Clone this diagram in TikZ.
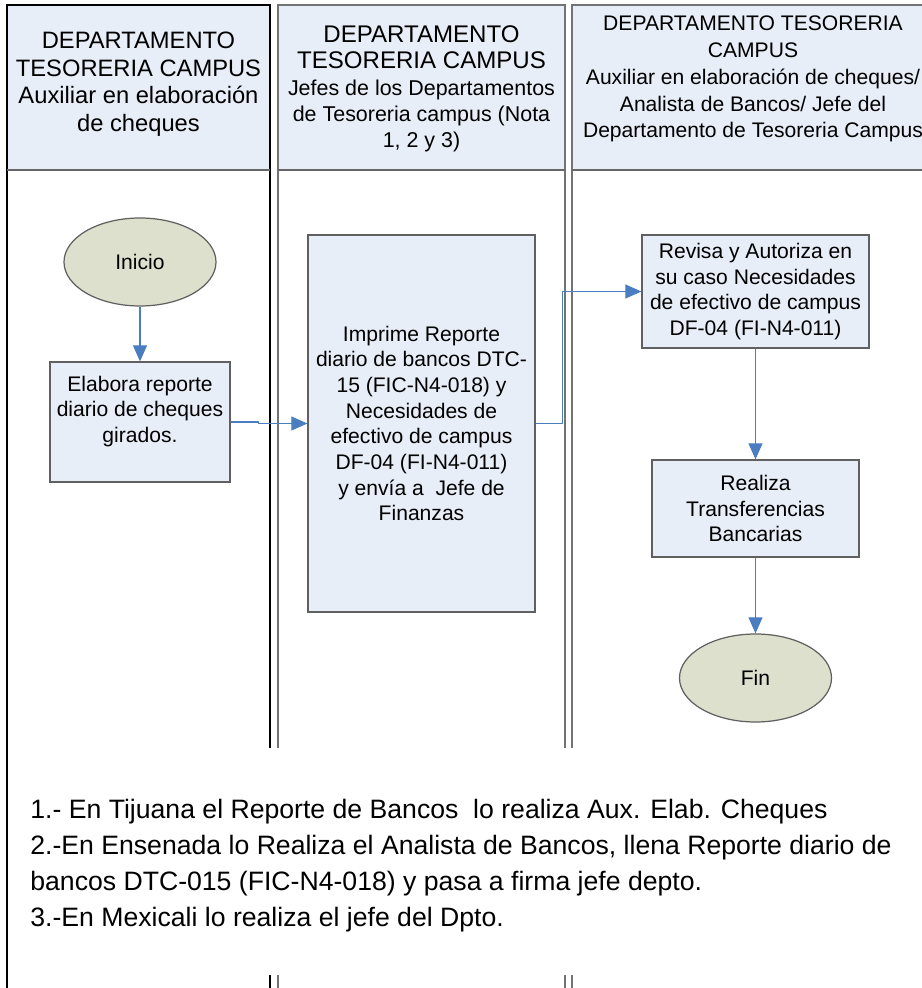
\documentclass[tikz,border=0pt]{standalone}
\usepackage{fontspec}
\setmainfont{Liberation Sans}
\usepackage{xcolor}
\usepackage{tikz}
\usetikzlibrary{positioning, arrows.meta, calc, shapes.geometric}

\definecolor{azulcab}{RGB}{232,238,247}
\definecolor{olivo}{RGB}{221,224,204}
\definecolor{azulflecha}{RGB}{74,126,193}
\definecolor{borde}{RGB}{96,96,96}

\begin{document}
\begin{tikzpicture}[
  carril/.style={line width=0.8pt},
  caja/.style={draw=borde, fill=azulcab, line width=0.7pt, align=center, font=\fontsize{12}{14.6}\selectfont},
  terminal/.style={ellipse, draw=borde, fill=olivo, line width=0.7pt, minimum width=3.04cm, minimum height=1.76cm, font=\fontsize{12}{14.6}\selectfont},
  flecha/.style={-{Triangle[length=3.2mm,width=2.8mm]}, azulflecha, line width=0.6pt},
  titulo/.style={align=center, inner sep=0pt}
]
\useasboundingbox (0,0) rectangle (18.44,19.76);
\clip (0,0) rectangle (18.44,19.76);
% header fills of the three lanes
\fill[azulcab] (0.14,16.36) rectangle (5.40,19.66);
\fill[azulcab] (5.56,16.36) rectangle (11.30,19.66);
\fill[azulcab] (11.44,16.36) rectangle (18.68,19.66);
% lane borders
\draw[carril] (0.14,-0.1) -- (0.14,19.66) -- (5.40,19.66) -- (5.40,4.80);
\draw[carril,black!55] (5.56,4.80) -- (5.56,19.66) -- (11.30,19.66) -- (11.30,4.80);
\draw[carril,black!55] (11.44,4.80) -- (11.44,19.66) -- (18.68,19.66) -- (18.68,4.80);
\draw[carril,black!60] (0.14,16.36) -- (5.40,16.36);
\draw[carril,black!60] (5.56,16.36) -- (11.30,16.36);
\draw[carril,black!60] (11.44,16.36) -- (18.68,16.36);
% lane stubs at the bottom edge
\draw[carril] (5.40,0.26) -- (5.40,-0.1);
\foreach \x in {5.56,11.30,11.44}
  \draw[carril,black!55] (\x,0.26) -- (\x,-0.1);
% lane titles
\node[titulo, font=\fontsize{13.5}{15.7}\selectfont] (cab1) at (2.77,18.08)
  {DEPARTAMENTO\\TESORERIA CAMPUS\\Auxiliar en elaboración\\de cheques};
\node[titulo, font=\fontsize{12.2}{15}\selectfont] (cab2) at (8.43,17.98)
  {{\fontsize{13.7}{15.7}\selectfont DEPARTAMENTO}\\{\fontsize{13.7}{15.7}\selectfont TESORERIA CAMPUS}\\Jefes de los Departamentos\\de Tesoreria campus (Nota\\1, 2 y 3)};
\node[titulo, font=\fontsize{12}{15.3}\selectfont] (cab3) at (15.06,18.18)
  {DEPARTAMENTO TESORERIA\\CAMPUS\\Auxiliar en elaboración de cheques/\\Analista de Bancos/ Jefe del\\Departamento de Tesoreria Campus};
% process steps
\node[terminal] (inicio) at (2.80,14.52) {Inicio};
\node[caja, minimum width=3.6cm, minimum height=2.4cm] (elabora) at (2.80,11.32)
  {Elabora reporte\\diario de cheques\\girados.\\\mbox{}};
\node[caja, minimum width=4.54cm, minimum height=7.54cm] (imprime) at (8.43,11.29)
  {Imprime Reporte\\diario de bancos DTC-\\15 (FIC-N4-018) y\\Necesidades de\\efectivo de campus\\DF-04 (FI-N4-011)\\y envía a\ \ Jefe de\\Finanzas};
\node[caja, minimum width=4.54cm, minimum height=2.26cm] (revisa) at (15.11,13.93)
  {Revisa y Autoriza en\\su caso Necesidades\\de efectivo de campus\\DF-04 (FI-N4-011)};
\node[caja, minimum width=4.14cm, minimum height=1.94cm] (realiza) at (15.11,9.59)
  {Realiza\\Transferencias\\Bancarias};
\node[terminal] (fin) at (15.11,6.20) {Fin};
% flow
\draw[flecha] (inicio) -- (elabora);
\draw[flecha] (elabora.east) -- ++(0.56,0) |- (imprime.west);
\draw[flecha] (imprime.east) -- ++(0.54,0) |- (revisa.west);
\draw[flecha] (revisa) -- (realiza);
\draw[flecha] (realiza) -- (fin);
% notes
\node[anchor=north west, align=left, inner sep=0pt, font=\fontsize{15.15}{20.5}\selectfont] (notas) at (0.6,3.79)
  {1.- En Tijuana el Reporte de Bancos\ \ lo realiza Aux. Elab. Cheques\\
   2.-En Ensenada lo Realiza el Analista de Bancos, llena Reporte diario de\\
   bancos DTC-015 (FIC-N4-018) y pasa a firma jefe depto.\\
   3.-En Mexicali lo realiza el jefe del Dpto.};
\end{tikzpicture}
\end{document}
